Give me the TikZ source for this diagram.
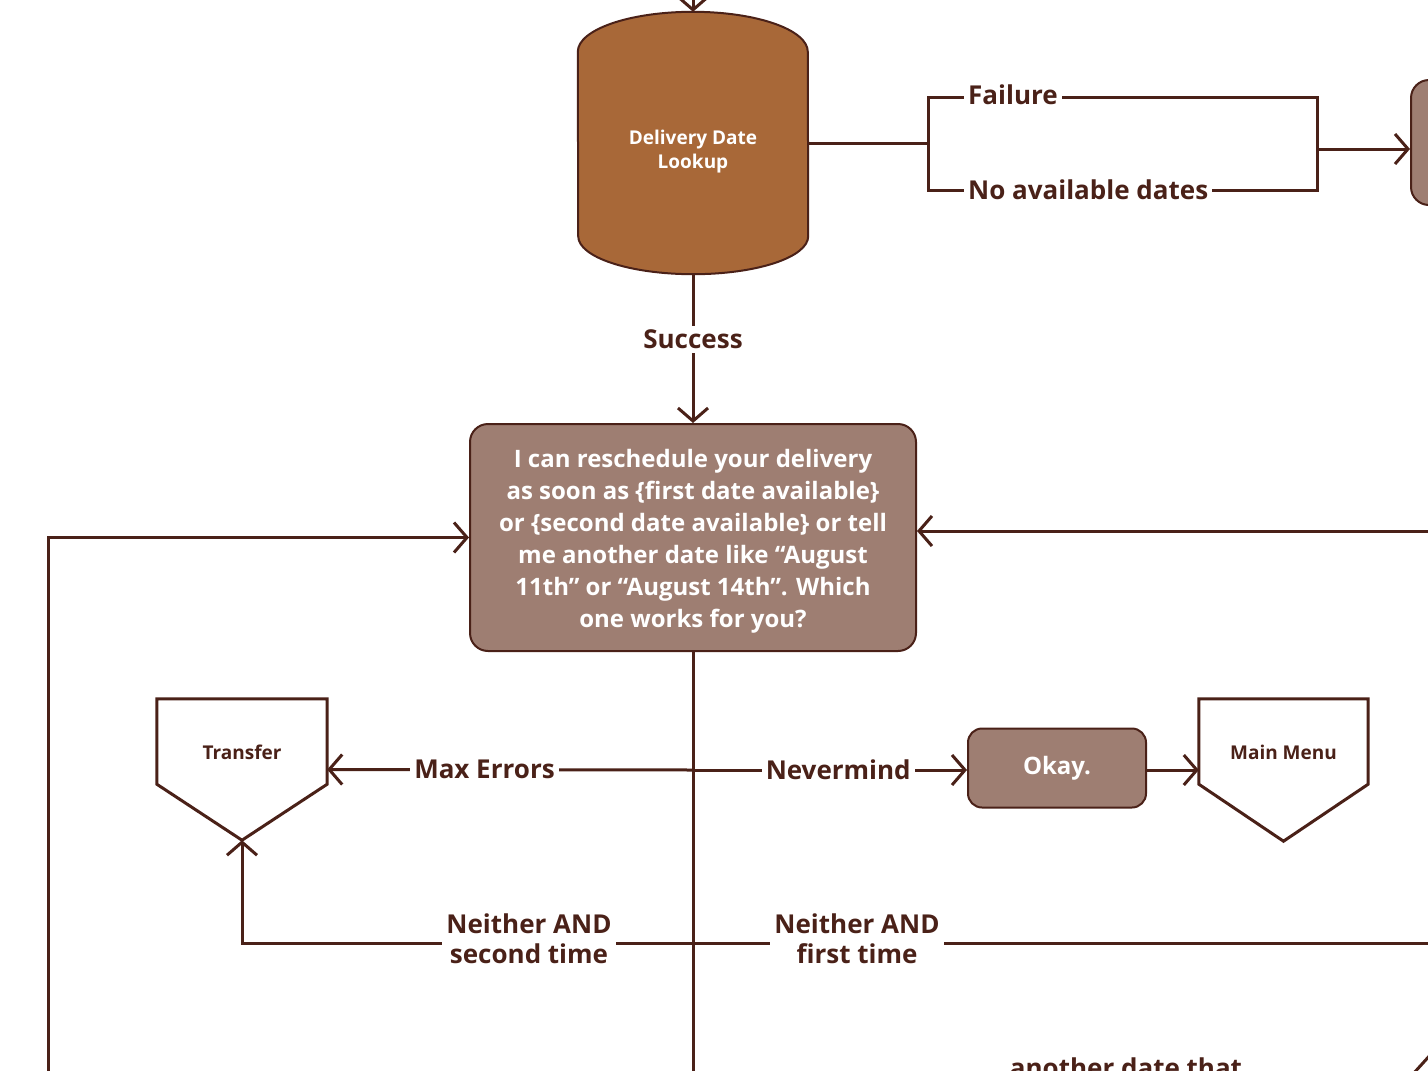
\documentclass[tikz,border=0pt]{standalone}
\usepackage{fontspec}
\setmainfont{Open Sans}
\usetikzlibrary{arrows.meta}
\definecolor{ink}{RGB}{74,33,24}
\definecolor{lookupfill}{RGB}{168,104,56}
\definecolor{promptfill}{RGB}{158,126,114}
\tikzset{
  wire/.style={draw=ink, line width=3pt},
  arr/.style={wire, -{Straight Barb[length=13pt,width=30pt,line width=3pt]}},
  lbl/.style={fill=white, text=ink, font=\bfseries\fontsize{26}{30}\selectfont, inner sep=4pt, align=center},
  prompt/.style={draw=ink, line width=2pt, fill=promptfill, rounded corners=18pt, text=white},
  small/.style={font=\bfseries\fontsize{19}{24}\selectfont}
}
\begin{document}
\begin{tikzpicture}[x=1pt,y=1pt]
\useasboundingbox (0,0) rectangle (1428,-1071);
\fill[white] (0,0) rectangle (1428,-1071);
\clip (0,0) rectangle (1428,-1071);
% lookup
\node[minimum width=230pt, minimum height=262pt, inner sep=0pt] (lookup) at (693,-143) {};
\draw[fill=lookupfill, draw=ink, line width=2pt] ([yshift=-40pt]lookup.north west) arc[start angle=180, end angle=0, x radius=115pt, y radius=40pt] -- ([yshift=38pt]lookup.south east) arc[start angle=0, end angle=-180, x radius=115pt, y radius=38pt] -- cycle;
\node[small, text=white, align=center] at (lookup) [yshift=-9pt] {Delivery Date\\Lookup};
\coordinate (entry) at (693,8);
\draw[arr] (entry) -- (lookup.north);
% failure branch
\node[prompt, minimum width=140pt, minimum height=125pt, anchor=west] (next) at (1410,-142.5) {};
\coordinate (fork) at (928,-143);
\coordinate (join) at (1317,-149);
\draw[wire] (lookup.east) -- (fork);
\draw[wire] (fork |- 0,-97) -- (join |- 0,-97) -- (join |- 0,-190) -- (fork |- 0,-190) -- cycle;
\node[lbl, anchor=west] (lfail) at (964,-95) {Failure};
\node[lbl, anchor=west] (lnone) at (964,-190) {No available dates};
\draw[arr] (join) -- (join -| next.west);
% question
\node[prompt, minimum width=446pt, minimum height=227pt, align=center, font=\bfseries\fontsize{24}{32}\selectfont] (ask) at (693,-537.5) {\rule{0pt}{26pt}I can reschedule your delivery\\as soon as \{first date available\}\\or \{second date available\} or tell\\me another date like “August\\11th” or “August 14th”. Which\\one works for you?};
\draw[arr] (lookup.south) -- node[lbl, pos=0.44] (lsucc) {Success} (ask.north);
\draw[arr] (48,-1090) |- (ask.west);
\draw[arr] (1440,-531) -- (ask.east |- 0,-531);
\draw[wire] (ask.south) -- (693,-1090);
% exits
\node[minimum width=170pt, minimum height=141pt, inner sep=0pt] (transfer) at (242,-769.5) {};
\draw[wire] (transfer.north west) -- (transfer.north east) -- ([yshift=56pt]transfer.south east) -- (transfer.south) -- ([yshift=56pt]transfer.south west) -- cycle;
\node[small, text=ink] at (242,-752) {Transfer};
\node[minimum width=169pt, minimum height=142pt, inner sep=0pt] (menu) at (1283.5,-770) {};
\draw[wire] (menu.north west) -- (menu.north east) -- ([yshift=57pt]menu.south east) -- (menu.south) -- ([yshift=57pt]menu.south west) -- cycle;
\node[small, text=ink] at (1283.5,-752) {Main Menu};
\node[prompt, minimum width=178pt, minimum height=79pt, rounded corners=14pt, font=\bfseries\fontsize{24}{30}\selectfont] (okay) at (1057,-768) {Okay.};
\coordinate (hub) at (693,-770);
\draw[arr] (hub) -- node[lbl, pos=0.57] (lmax) {Max Errors} (transfer.east);
\draw[arr] (hub) -- node[lbl, pos=0.53] (lnever) {Nevermind} (okay.west |- hub);
\draw[arr] (okay.east |- hub) -- (menu.west |- hub);
% retries
\coordinate (low) at (693,-943);
\draw[wire] (low) -- (1440,-943);
\node[lbl] (lfirst) at (857,-939) {Neither AND\\first time};
\draw[arr] (low) -| (transfer.south);
\node[lbl] (lsecond) at (529,-939) {Neither AND\\second time};
\node[lbl, anchor=base] (lother) at (1126,-1077) {another date that};
\draw[wire] (1413,-1074) -- (1432,-1053);
\end{tikzpicture}
\end{document}
